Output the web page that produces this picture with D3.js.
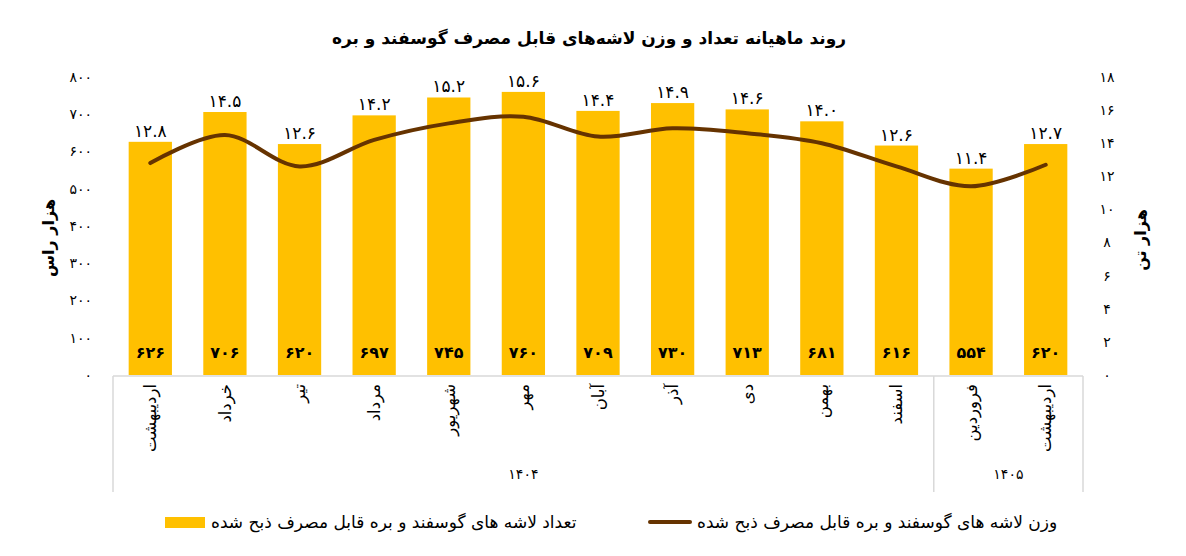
<!DOCTYPE html>
<html>
<head>
<meta charset="utf-8">
<script src="https://cdn.jsdelivr.net/npm/d3@7"></script>
<style>
  body { margin: 0; background: #fff; }
  text { font-family: "DejaVu Sans", "Noto Sans", sans-serif; fill: #000; }
</style>
</head>
<body>
<svg id="chart" width="1186" height="556"></svg>
<script>
// chart data
const months = ["اردیبهشت", "خرداد", "تیر", "مرداد", "شهریور", "مهر", "آبان", "آذر", "دی", "بهمن", "اسفند", "فروردین", "اردیبهشت"];
const counts = [626, 706, 620, 697, 745, 760, 709, 730, 713, 681, 616, 554, 620];
const weights = [12.8, 14.5, 12.6, 14.2, 15.2, 15.6, 14.4, 14.9, 14.6, 14.0, 12.6, 11.4, 12.7];
const yearLabels = ["1404", "1405"];
const yearSpans = [11, 2];
const leftTicks = [0, 100, 200, 300, 400, 500, 600, 700, 800];
const rightTicks = [0, 2, 4, 6, 8, 10, 12, 14, 16, 18];

const title = "روند ماهیانه تعداد و وزن لاشه‌های قابل مصرف گوسفند و بره";
const barName = "تعداد لاشه های گوسفند و بره قابل مصرف ذبح شده";
const lineName = "وزن لاشه های گوسفند و بره قابل مصرف ذبح شده";

const barColor = "#FFC000";
const lineColor = "#663300";
const axisColor = "#d9d9d9";

// persian digits
function fa(v) {
    return String(v).replace(/[0-9]/g, (c) => "۰۱۲۳۴۵۶۷۸۹"[+c]);
}

const svg = d3.select("#chart");
const margin = { left: 113, right: 1083, top: 77, bottom: 375 };

const x = d3.scaleBand()
    .domain(d3.range(months.length))
    .range([margin.left, margin.right])
    .paddingInner(0.42)
    .paddingOuter(0.21);

const yLeft = d3.scaleLinear().domain([0, 800]).range([margin.bottom, margin.top]);
const yRight = d3.scaleLinear().domain([0, 18]).range([margin.bottom, margin.top]);

// title
svg.append("text")
    .attr("x", 589)
    .attr("y", 44)
    .attr("text-anchor", "middle")
    .style("font-size", "17px")
    .style("font-weight", "bold")
    .text(title);

// bars
svg.append("g")
    .selectAll("rect")
    .data(counts)
    .enter()
    .append("rect")
    .attr("x", (d, i) => x(i))
    .attr("y", (d) => yLeft(d))
    .attr("width", x.bandwidth())
    .attr("height", (d) => yLeft(0) - yLeft(d))
    .style("fill", barColor);

// count labels inside bars
svg.append("g")
    .selectAll("text")
    .data(counts)
    .enter()
    .append("text")
    .attr("x", (d, i) => x(i) + x.bandwidth() / 2)
    .attr("y", 358)
    .attr("text-anchor", "middle")
    .style("font-size", "16px")
    .style("font-weight", "bold")
    .text((d) => fa(d));

// weight labels above bars
svg.append("g")
    .selectAll("text")
    .data(weights)
    .enter()
    .append("text")
    .attr("x", (d, i) => x(i) + x.bandwidth() / 2)
    .attr("y", (d, i) => yLeft(counts[i]) - 5)
    .attr("text-anchor", "middle")
    .style("font-size", "17px")
    .text((d) => fa(d.toFixed(1)));

// weight line
const line = d3.line()
    .x((d, i) => x(i) + x.bandwidth() / 2)
    .y((d) => yRight(d))
    .curve(d3.curveCardinal.tension(0));

svg.append("path")
    .datum(weights)
    .attr("d", line)
    .style("fill", "none")
    .style("stroke", lineColor)
    .style("stroke-width", 4)
    .style("stroke-linecap", "round");

// left axis ticks
svg.append("g")
    .selectAll("text")
    .data(leftTicks)
    .enter()
    .append("text")
    .attr("x", 92)
    .attr("y", (d) => yLeft(d))
    .attr("dy", "0.35em")
    .attr("text-anchor", "end")
    .style("font-size", "14px")
    .text((d) => fa(d));

// right axis ticks
svg.append("g")
    .selectAll("text")
    .data(rightTicks)
    .enter()
    .append("text")
    .attr("x", 1107)
    .attr("y", (d) => yRight(d))
    .attr("dy", "0.35em")
    .attr("text-anchor", "middle")
    .style("font-size", "14px")
    .text((d) => fa(d));

// axis titles
svg.append("text")
    .attr("transform", "translate(48,238) rotate(-90)")
    .attr("text-anchor", "middle")
    .attr("dy", "0.35em")
    .style("font-size", "16px")
    .style("font-weight", "bold")
    .text("هزار راس");

svg.append("text")
    .attr("transform", "translate(1140,240) rotate(-90)")
    .attr("text-anchor", "middle")
    .attr("dy", "0.35em")
    .style("font-size", "16px")
    .style("font-weight", "bold")
    .text("هزار تن");

// x axis line and group boxes
svg.append("line")
    .attr("x1", margin.left).attr("x2", margin.right)
    .attr("y1", yLeft(0) + 1).attr("y2", yLeft(0) + 1)
    .style("stroke", axisColor)
    .style("stroke-width", 1.5);

const step = x.step();
let pos = 0;
const bounds = [0];
yearSpans.forEach((s) => { pos += s; bounds.push(pos); });

svg.append("g")
    .selectAll("line")
    .data(bounds)
    .enter()
    .append("line")
    .attr("x1", (d) => margin.left + d * step)
    .attr("x2", (d) => margin.left + d * step)
    .attr("y1", yLeft(0) + 1)
    .attr("y2", 492)
    .style("stroke", axisColor)
    .style("stroke-width", 1.5);

svg.append("g")
    .selectAll("text")
    .data(yearLabels)
    .enter()
    .append("text")
    .attr("x", (d, i) => margin.left + (bounds[i] + bounds[i + 1]) / 2 * step)
    .attr("y", 474)
    .attr("dy", "0.35em")
    .attr("text-anchor", "middle")
    .style("font-size", "14px")
    .text((d) => fa(d));

// month labels
svg.append("g")
    .selectAll("text")
    .data(months)
    .enter()
    .append("text")
    .attr("transform", (d, i) => `translate(${x(i) + x.bandwidth() / 2},384) rotate(-90)`)
    .attr("text-anchor", "end")
    .attr("dy", "0.35em")
    .style("font-size", "16.5px")
    .text((d) => d);

// legend
const legend = svg.append("g");
legend.append("rect")
    .attr("x", 165).attr("y", 517)
    .attr("width", 40).attr("height", 11)
    .style("fill", barColor);
legend.append("text")
    .attr("x", 211).attr("y", 522)
    .attr("dy", "0.35em")
    .attr("text-anchor", "start")
    .style("font-size", "17px")
    .text(barName);
legend.append("line")
    .attr("x1", 650).attr("x2", 690)
    .attr("y1", 522).attr("y2", 522)
    .style("stroke", lineColor)
    .style("stroke-width", 4)
    .style("stroke-linecap", "round");
legend.append("text")
    .attr("x", 697).attr("y", 522)
    .attr("dy", "0.35em")
    .attr("text-anchor", "start")
    .style("font-size", "17px")
    .text(lineName);
</script>
</body>
</html>
